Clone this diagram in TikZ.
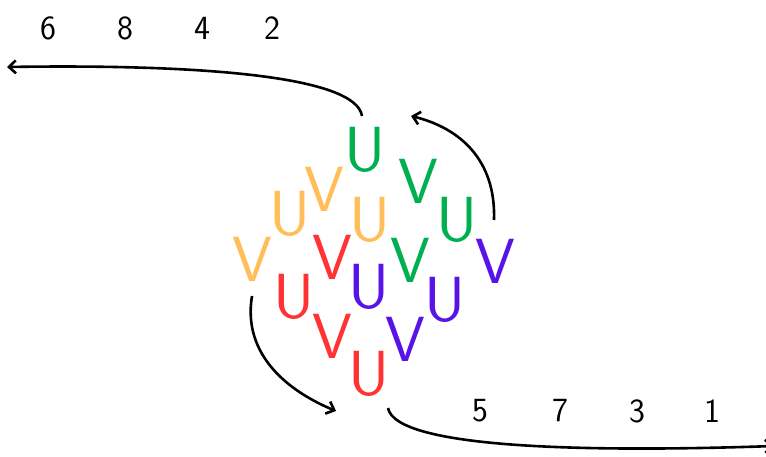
\documentclass[tikz,border=0pt]{standalone}
\usetikzlibrary{arrows.meta}
\definecolor{cg}{RGB}{0,176,80}
\definecolor{co}{RGB}{255,190,90}
\definecolor{cr}{RGB}{255,51,51}
\definecolor{cp}{RGB}{88,20,230}
\begin{document}
\begin{tikzpicture}[x=1bp,y=-1bp,
  letter/.style={inner sep=0pt,font=\sffamily\fontsize{64}{64}\selectfont},
  num/.style={inner sep=0pt,font=\sffamily\fontsize{34}{34}\selectfont},
  arr/.style={line width=2.6bp,-{Straight Barb[length=7bp,width=13bp,line width=2.6bp]}}]
\useasboundingbox (0,0) rectangle (766,457);
% letters
\node[letter,text=cg] (u1) at (365,150) {U};
\node[letter,text=cg] (v1) at (418,181) {V};
\node[letter,text=cg] (u2) at (457,220) {U};
\node[letter,text=cp] (v2) at (495,261) {V};
\node[letter,text=co] (v3) at (324,189) {V};
\node[letter,text=co] (u3) at (290,214) {U};
\node[letter,text=co] (u4) at (370,220) {U};
\node[letter,text=co] (v4) at (252,259) {V};
\node[letter,text=cr] (v5) at (332,257) {V};
\node[letter,text=cg] (v6) at (410,260) {V};
\node[letter,text=cr] (u5) at (294,297) {U};
\node[letter,text=cp] (u6) at (369,287) {U};
\node[letter,text=cp] (u7) at (445,300) {U};
\node[letter,text=cr] (v7) at (332,336) {V};
\node[letter,text=cp] (v8) at (405,339) {V};
\node[letter,text=cr] (u8) at (369,374) {U};
% numbers
\node[num] (n6) at (48,28) {6};
\node[num] (n8) at (125,28) {8};
\node[num] (n4) at (202,28) {4};
\node[num] (n2) at (272,28) {2};
\node[num] (n5) at (480,411) {5};
\node[num] (n7) at (560,411) {7};
\node[num] (n3) at (637,411) {3};
\node[num] (n1) at (712,411) {1};
% arrow ends
\coordinate (a1s) at (362,116);
\coordinate (a1e) at (7,67);
\coordinate (a2s) at (494,220);
\coordinate (a2e) at (411,116);
\coordinate (a3s) at (252,296);
\coordinate (a3e) at (336,411);
\coordinate (a4s) at (388,408);
\coordinate (a4e) at (774,446);
\draw[arr] (a1s) .. controls (356,76) and (200,64) .. (a1e);
\draw[arr] (a2s) .. controls (496,160) and (460,128) .. (a2e);
\draw[arr] (a3s) .. controls (242,356) and (290,392) .. (a3e);
\draw[arr] (a4s) .. controls (396,450) and (600,452) .. (a4e);
\end{tikzpicture}
\end{document}
